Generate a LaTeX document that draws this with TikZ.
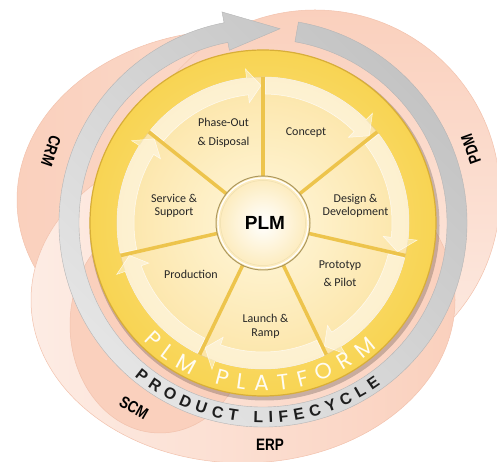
\documentclass[tikz,border=0pt]{standalone}
\usepackage{fontspec}
\setmainfont{Carlito}
\newfontfamily\lsans{Liberation Sans}
\newfontfamily\popfont{Poppins}
\usetikzlibrary{decorations.text,calc}
\definecolor{pinkM}{HTML}{FAD0BD}
\definecolor{pinkL}{HTML}{FDECE4}
\definecolor{pinkE}{HTML}{F2C2AD}
\definecolor{greyD}{HTML}{C3C3C3}
\definecolor{greyL}{HTML}{E6E6E6}
\definecolor{greyE}{HTML}{B5B5B5}
\definecolor{goldIn}{HTML}{FCE58E}
\definecolor{goldOut}{HTML}{F8D453}
\definecolor{goldEdge}{HTML}{D8AE38}
\definecolor{creamIn}{HTML}{FFF7DC}
\definecolor{creamOut}{HTML}{FCE5A8}
\definecolor{spokeC}{HTML}{EDC44C}
\definecolor{txtC}{HTML}{262626}
\definecolor{lifeC}{HTML}{1E1E1E}
\definecolor{platC}{HTML}{FFFCF2}
\newcommand\pinklab[1]{\scalebox{.9}[1.1]{#1}}
\tikzset{
  pinkshape/.style={draw=pinkE, line width=.5},
  arrowband/.style={fill=white, fill opacity=.45, draw=white, draw opacity=.75, line width=.5},
  spoke/.style={draw=spokeC, line width=3.5},
  seglbl/.style={font=\fontsize{12}{14}\selectfont, text=txtC, align=center, inner sep=0pt},
  pinklbl/.style={font=\lsans\bfseries\fontsize{15}{15}\selectfont, text=black, inner sep=0pt}
}
\begin{document}
\begin{tikzpicture}[x=1pt,y=1pt]
\useasboundingbox (0,0) rectangle (497,462);
\coordinate (C) at (263,239);
% pink background shapes
\shadedraw[pinkshape, left color=pinkM, right color=pinkL!60!pinkM] (235,262) ellipse [x radius=218, y radius=170];
\shadedraw[pinkshape, top color=pinkM, bottom color=pinkL] (315,267) circle (185);
\shadedraw[pinkshape, left color=pinkL, right color=pinkM] (243,162) ellipse [x radius=212, y radius=163];
\filldraw[pinkshape, fill=pinkM] (160,137) ellipse [x radius=90, y radius=108];
% grey product lifecycle ring with arrow
\shadedraw[top color=greyD, bottom color=greyL, shading angle=-45, draw=greyE, line width=.4]
  ($(C)+(80:204)$) arc[start angle=80, end angle=-259, radius=204]
  -- ($(C)+(101:215)$) -- ($(C)+(85:195)$) -- ($(C)+(101:176)$) -- ($(C)+(101:184)$)
  arc[start angle=101, end angle=440, radius=184] -- cycle;
% yellow disc
\fill[black, opacity=.2] ($(C)+(1.5,-2.5)$) circle (175);
\shadedraw[inner color=goldIn, outer color=goldOut, draw=goldEdge, line width=1.2] (C) circle (173);
\shadedraw[inner color=creamIn, outer color=creamOut, draw=goldEdge!60, line width=.6] (C) circle (146);
% arrow bands
\foreach \a in {141.43,90,38.57,-12.86,-64.29,-115.71,-167.14}{
  \fill[arrowband] ($(C)+({\a-1}:129)$) arc[start angle={\a-1}, end angle={\a-44.93}, radius=129]
    -- ($(C)+({\a-44.93}:121)$) -- ($(C)+({\a-50.63}:137.5)$) -- ($(C)+({\a-44.93}:155)$)
    -- ($(C)+({\a-44.93}:146)$) arc[start angle={\a-44.93}, end angle={\a-1}, radius=146] -- cycle;
}
% spokes
\foreach \a in {141.43,90,38.57,-12.86,-64.29,-115.71,-167.14}{
  \draw[spoke] ($(C)+(\a:46)$) -- ($(C)+(\a:146)$);
}
% centre
\shadedraw[inner color=white, outer color=creamOut!80!white, draw=goldEdge!50!gray, line width=1] (C) circle (47);
\draw[white, line width=1.2] (C) circle (45);
\draw[goldEdge!40, line width=.5] (C) circle (42.5);
\node[font=\lsans\bfseries\fontsize{19}{19}\selectfont, text=black] (plm) at (265,239.5) {PLM};
% segment labels
\node[seglbl, font=\fontsize{12}{19}\selectfont] (phase) at (223.5,329.5) {Phase-Out\\\& Disposal};
\node[seglbl] (concept) at (306,329) {Concept};
\node[seglbl, font=\fontsize{12}{13.3}\selectfont] (design) at (355.5,256.5) {Design \&\\Development};
\node[seglbl, font=\fontsize{12}{18.3}\selectfont] (proto) at (340,188) {Prototyp\\\& Pilot};
\node[seglbl, font=\fontsize{12}{14}\selectfont] (launch) at (265.5,136) {Launch \&\\Ramp};
\node[seglbl] (prod) at (191,188) {Production};
\node[seglbl, font=\fontsize{12}{13.3}\selectfont] (service) at (174,256.5) {Service \&\\Support};
% PLM PLATFORM text
\path[decorate, decoration={text along path, text align={fit to path},
  text={|\popfont\fontsize{22}{22}\selectfont\color{platC}|PLM PLATFORM}}]
  ($(C)+(224.5:168)$) arc[start angle=224.5, end angle=312.5, radius=168];
% PRODUCT LIFECYCLE text
\path[decorate, decoration={text along path, text align={fit to path},
  text={|\lsans\bfseries\fontsize{16}{16}\selectfont\color{lifeC}|PRODUCT LIFECYCLE}}]
  ($(C)+(230:200)$) arc[start angle=230, end angle=306, radius=200];
% outer system labels
\node[pinklbl, rotate=-109] (crm) at (51,311) {\pinklab{CRM}};
\node[pinklbl, rotate=110] (pdm) at (471,313) {\pinklab{PDM}};
\node[pinklbl, rotate=-30] (scm) at (134,54) {\pinklab{SCM}};
\node[pinklbl] (erp) at (270,17) {\pinklab{ERP}};
\end{tikzpicture}
\end{document}
